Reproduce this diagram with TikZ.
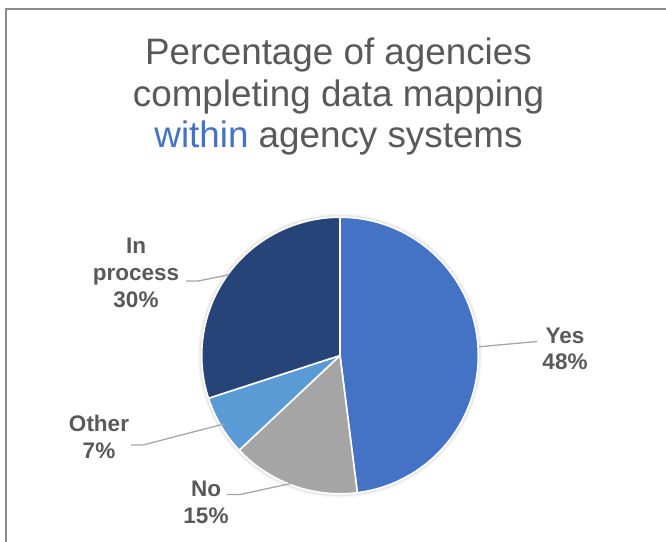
\documentclass[tikz,border=0pt]{standalone}
\usepackage{fontspec}
\setmainfont{Liberation Sans}
\usetikzlibrary{calc}
\definecolor{txtgray}{HTML}{595959}
\definecolor{yescol}{HTML}{4472C4}
\definecolor{nocol}{HTML}{A5A5A5}
\definecolor{othercol}{HTML}{5B9BD5}
\definecolor{inproccol}{HTML}{264478}
\definecolor{framecol}{HTML}{8C8C8C}
\definecolor{leadcol}{HTML}{A6A6A6}
\tikzset{
  titleline/.style={anchor=base, inner sep=0pt, text=txtgray, font=\fontsize{36.8}{46}\selectfont},
  lbl/.style={anchor=base, inner sep=0pt, text=txtgray, font=\fontsize{22.5}{27}\selectfont\bfseries},
  slice/.style={draw=white, line width=1.6pt, line join=round},
  leader/.style={draw=leadcol, line width=1.3pt},
  framebar/.style={draw=framecol, line width=2pt}
}
\begin{document}
\begin{tikzpicture}[x=1pt,y=1pt]
\useasboundingbox (0,0) rectangle (666,541);
% frame
\coordinate (fbl) at (5.5,-2);
\coordinate (ftl) at (5.5,531.6);
\coordinate (ftr) at (668,531.6);
\draw[framebar] (fbl) -- (ftl) -- (ftr);
% title
\node[titleline] (t1) at (338.5,476) {Percentage of agencies};
\node[titleline] (t2) at (338.5,434.5) {completing data mapping};
\node[titleline] (t3) at (338.5,393) {\textcolor{yescol}{within} agency systems};
% pie
\def\R{138.3}
\coordinate (c) at (340,185.5);
\fill[black!4] (c) circle (\R+3.6);
\fill[black!9] (c) circle (\R+2.2);
\filldraw[slice, fill=yescol] (c) -- ++(90:\R) arc[start angle=90, end angle=-82.8, radius=\R] -- cycle;
\filldraw[slice, fill=nocol] (c) -- ++(-82.8:\R) arc[start angle=-82.8, end angle=-136.8, radius=\R] -- cycle;
\filldraw[slice, fill=othercol] (c) -- ++(-136.8:\R) arc[start angle=-136.8, end angle=-162, radius=\R] -- cycle;
\filldraw[slice, fill=inproccol] (c) -- ++(-162:\R) arc[start angle=-162, end angle=-270, radius=\R] -- cycle;
% anchor points on the pie edge
\coordinate (pyes) at ($(c)+(3.6:\R+1)$);
\coordinate (pno) at ($(c)+(-109.8:\R-3)$);
\coordinate (pother) at ($(c)+(-149.4:\R-4)$);
\coordinate (pin) at ($(c)+(144:\R-1)$);
% labels
\node[lbl] (yes1) at (565,197.7) {Yes};
\node[lbl] (yes2) at (565,171.7) {48\%};
\node[lbl] (no1) at (206,45) {No};
\node[lbl] (no2) at (206,18) {15\%};
\node[lbl] (oth1) at (99,109.3) {Other};
\node[lbl] (oth2) at (99,82.3) {7\%};
\node[lbl] (in1) at (136,287.7) {In};
\node[lbl] (in2) at (136,260.3) {process};
\node[lbl] (in3) at (136,233.3) {30\%};
% leader lines
\coordinate (lyes) at (537,199.5);
\coordinate (lno1) at (240,46.5);
\coordinate (lno2) at (227,46.5);
\coordinate (loth1) at (143,96);
\coordinate (loth2) at (131,96);
\coordinate (lin1) at (198,260);
\coordinate (lin2) at (186,260);
\draw[leader] (pyes) -- (lyes);
\draw[leader] (pno) -- (lno1) -- (lno2);
\draw[leader] (pother) -- (loth1) -- (loth2);
\draw[leader] (pin) -- (lin1) -- (lin2);
\end{tikzpicture}
\end{document}
